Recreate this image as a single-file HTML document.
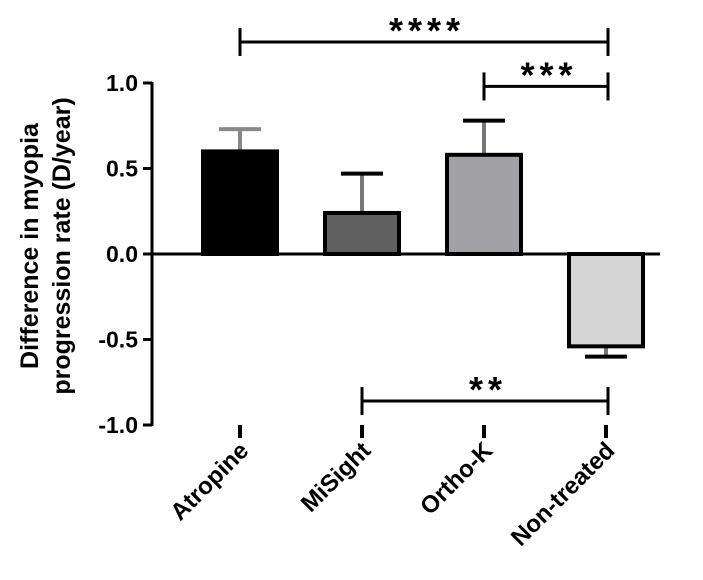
<!DOCTYPE html>
<html><head><meta charset="utf-8"><style>
body{margin:0;background:#fff;}
svg text{font-family:"Liberation Sans",Arial,sans-serif;font-weight:bold;fill:#000;}
</style></head><body>
<svg id="chart" width="703" height="575" viewBox="0 0 703 575"></svg>
<script>
const categories=["Atropine","MiSight","Ortho-K","Non-treated"];
const values=[0.60,0.24,0.58,-0.54];
const errors=[0.13,0.23,0.20,0.06];
const colors=["#000000","#5f5f5f","#a1a1a5","#d4d4d4"];
const yTicks=[1.0,0.5,0.0,-0.5,-1.0];
const yTickLabels=["1.0","0.5","0.0","-0.5","-1.0"];
const brackets=[{from:0,to:3,y:1.24,label:"****"},{from:2,to:3,y:0.98,label:"***"},{from:1,to:3,y:-0.86,label:"**"}];

const NS="http://www.w3.org/2000/svg";
const svg=document.getElementById('chart');
const y0=254, ppu=171;
function yScale(v){return y0-v*ppu;}
function xScale(i){return 240+i*122;}
const bw=74;
function el(t,a,p){const e=document.createElementNS(NS,t);for(const k in a)e.setAttribute(k,a[k]);(p||svg).appendChild(e);return e;}

values.forEach((v,i)=>{
  const cx=xScale(i), top=Math.min(yScale(v),y0), h=Math.abs(yScale(v)-y0);
  const errEnd=yScale(v+(v>=0?errors[i]:-errors[i]));
  const eb=el('line',{x1:cx,x2:cx,y1:yScale(v),y2:errEnd,stroke:i===0?'#888':'#777','stroke-width':4});
  
  
  const cap=el('line',{x1:cx-21,x2:cx+21,y1:errEnd,y2:errEnd,stroke:i===0?'#888':'#000','stroke-width':4});
  
  
  const r=el('rect',{x:cx-bw/2,y:top,width:bw,height:h,fill:colors[i],stroke:'#000','stroke-width':4});
  
  
});
const ya=el('line',{x1:152,x2:152,y1:yScale(1.0)-1,y2:yScale(-1.0)+1,stroke:'#000','stroke-width':3});

const xa=el('line',{x1:152,x2:660,y1:y0,y2:y0,stroke:'#000','stroke-width':3});

yTicks.forEach((t,i)=>{
  const y=yScale(t);
  const tk=el('line',{x1:143,x2:152,y1:y,y2:y,stroke:'#000','stroke-width':3});
  
  const tx=el('text',{x:138,y:y+8,'text-anchor':'end','font-size':23});
  tx.textContent=yTickLabels[i];
  
});
categories.forEach((c,i)=>{
  const x=xScale(i);
  const tk=el('line',{x1:x,x2:x,y1:425,y2:438,stroke:'#000','stroke-width':4});
  
  const tx=el('text',{x:x+10,y:452,'text-anchor':'end','font-size':24,transform:`rotate(-45 ${x+10} 452)`});
  tx.textContent=c;
  
});
brackets.forEach(b=>{
  const y=yScale(b.y), x1=xScale(b.from), x2=xScale(b.to)+2;
  const g=el('g',{});
  
  el('line',{x1:x1,x2:x2,y1:y,y2:y,stroke:'#000','stroke-width':3},g);
  el('line',{x1:x1,x2:x1,y1:y-14,y2:y+14,stroke:'#000','stroke-width':3},g);
  el('line',{x1:x2,x2:x2,y1:y-14,y2:y+14,stroke:'#000','stroke-width':3},g);
  const t=el('text',{x:(x1+x2)/2+3,y:y+1,'text-anchor':'middle','font-size':36,'letter-spacing':5},g);
  t.textContent=b.label;
});
const yt=el('text',{transform:'translate(38 246) rotate(-90)','text-anchor':'middle','font-size':25});

const t1=el('tspan',{x:0,y:0},yt);t1.textContent='Difference in myopia';
const t2=el('tspan',{x:0,y:32},yt);t2.textContent='progression rate (D/year)';
</script>
</body></html>
